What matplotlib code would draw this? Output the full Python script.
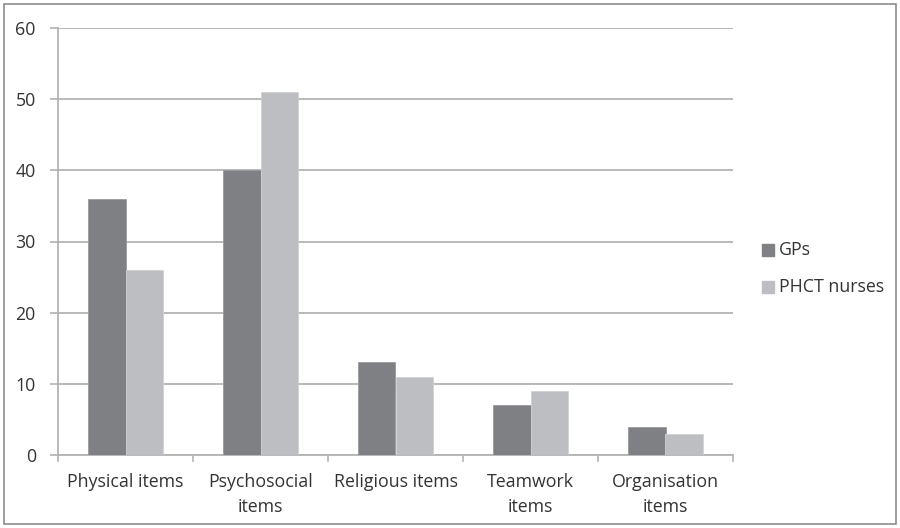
import numpy as np
import matplotlib.pyplot as plt
from matplotlib.patches import Rectangle

categories = ["Physical items", "Psychosocial\nitems", "Religious items",
              "Teamwork\nitems", "Organisation\nitems"]
gps = [36, 40, 13, 7, 4]
nurses = [26, 51, 11, 9, 3]
series_names = ["GPs", "PHCT nurses"]

plt.rcParams['font.family'] = ['Open Sans', 'DejaVu Sans']
grid_col = "#b3b3b3"
text_col = "#333333"
dark = "#7f8084"
light = "#bdbec2"
fs = 12.8

fig = plt.figure(figsize=(9, 5.28), dpi=100)
ax = fig.add_axes([58 / 900, 1 - 455 / 528, 675 / 900, 427 / 528])

x = np.arange(len(categories))
w = 0.28
ax.bar(x - w / 2, gps, width=w, color=dark, edgecolor="#9a9b9f", linewidth=0.6,
       label=series_names[0], zorder=3)
ax.bar(x + w / 2, nurses, width=w, color=light, edgecolor="#d0d1d4", linewidth=0.6,
       label=series_names[1], zorder=3)

ax.set_xlim(-0.5, len(categories) - 0.5)
ax.set_ylim(0, 60)
ax.set_yticks(range(0, 61, 10))
ax.yaxis.grid(True, color=grid_col, linewidth=1.3, zorder=0)
ax.tick_params(axis='y', length=6, width=1.2, color=grid_col, labelsize=fs,
               labelcolor=text_col, pad=10)

# category labels centred, tick marks between groups
ax.set_xticks(x)
ax.set_xticklabels(categories, fontsize=fs, color=text_col, linespacing=1.5)
ax.tick_params(axis='x', length=0, pad=13)
for b in np.arange(-0.5, len(categories), 1.0):
    ax.plot([b, b], [0, -0.9], color=grid_col, linewidth=1.2, clip_on=False, zorder=4)

for side in ["top", "right"]:
    ax.spines[side].set_visible(False)
for side in ["left", "bottom"]:
    ax.spines[side].set_color(grid_col)
    ax.spines[side].set_linewidth(1.3)

# legend drawn in figure pixels
for i, (name, col) in enumerate(zip(series_names, [dark, light])):
    yc = 528 - (250 + 37 * i)
    fig.patches.append(Rectangle((762 / 900, (yc - 6) / 528), 12 / 900, 12 / 528,
                                 transform=fig.transFigure, color=col))
    fig.text(779 / 900, yc / 528, name, fontsize=fs, color=text_col, va='center')

# outer chart frame
fig.patches.append(Rectangle((4 / 900, 4 / 528), 892 / 900, 520 / 528,
                             transform=fig.transFigure, fill=False,
                             edgecolor="#8c8c8c", linewidth=1.2))

fig.savefig("out.png", dpi=100)
